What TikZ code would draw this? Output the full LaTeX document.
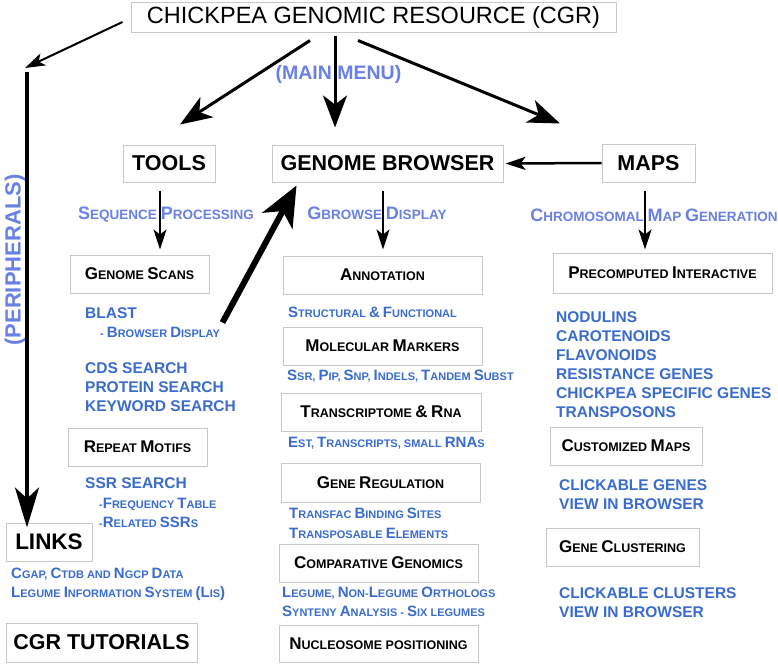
\documentclass[tikz,border=0pt]{standalone}
\usepackage{fontspec}
\setmainfont{Liberation Sans}
\usetikzlibrary{arrows.meta}
\definecolor{lblue}{RGB}{105,128,228}
\definecolor{iblue}{RGB}{58,108,206}
\definecolor{boxgray}{RGB}{200,200,200}
\newcommand\Tb[1]{{\fontsize{17}{20}\selectfont #1}}
\newcommand\Lb[1]{{\fontsize{18}{20}\selectfont #1}}
\newcommand\Ib[1]{{\fontsize{15}{17}\selectfont #1}}
\begin{document}
\begin{tikzpicture}[x=1pt,y=-1pt,
  box/.style={draw=boxgray, line width=1pt, fill=white, inner sep=0pt, align=center},
  mainbox/.style={box, font=\fontsize{21.5}{24}\selectfont\bfseries},
  subbox/.style={box, font=\fontsize{12.5}{15}\selectfont\bfseries},
  lab/.style={text=lblue, font=\fontsize{13.5}{16}\selectfont\bfseries, inner sep=0pt, text depth=0pt},
  bigl/.style={text=lblue, font=\fontsize{19.5}{22}\selectfont\bfseries, inner sep=0pt},
  item/.style={text=iblue, font=\fontsize{11}{19}\selectfont\bfseries, anchor=base west, inner sep=0pt, align=left},
  list/.style={text=iblue, font=\fontsize{15.5}{19}\selectfont\bfseries, anchor=base west, inner sep=0pt, align=left},
  thinarr/.style={line width=2pt, -{Stealth[length=20pt,width=13pt,inset=5pt]}},
  mainarr/.style={line width=3pt, -{Stealth[length=32pt,width=24pt,inset=9pt]}},
  smallarr/.style={line width=2pt, -{Stealth[length=20pt,width=13pt,inset=5pt]}},
  bigarr/.style={line width=6pt, -{Stealth[length=40pt,width=34pt,inset=11pt]}},
  vertarr/.style={line width=4pt, -{Stealth[length=40pt,width=24pt,inset=11pt]}}
]
\useasboundingbox[fill=white] (0,0) rectangle (778,664);

% boxes
\node[box, minimum width=485pt, minimum height=30pt, font=\fontsize{23.5}{26}\selectfont] (top) at (373.5,17) {CHICKPEA GENOMIC RESOURCE (CGR)};
\node[mainbox, minimum width=92pt, minimum height=37pt] (tools) at (169,163.5) {TOOLS};
\node[mainbox, minimum width=231pt, minimum height=37pt] (gb) at (387.5,163.5) {GENOME BROWSER};
\node[mainbox, minimum width=93pt, minimum height=38pt] (maps) at (648.5,163) {MAPS};

\node[subbox, minimum width=139pt, minimum height=38pt] (gscans) at (139.5,274) {\Tb{G}ENOME \Tb{S}CANS};
\node[subbox, minimum width=199pt, minimum height=38pt] (annot) at (382.5,275) {\Tb{A}NNOTATION};
\node[subbox, minimum width=219pt, minimum height=40pt] (precomp) at (662.5,273) {\Tb{P}RECOMPUTED \Tb{I}NTERACTIVE};
\node[subbox, minimum width=199pt, minimum height=38pt] (molmark) at (382.5,346) {\Tb{M}OLECULAR \Tb{M}ARKERS};
\node[subbox, minimum width=200pt, minimum height=38pt] (transc) at (381,412) {\Tb{T}RANSCRIPTOME \Tb{\&} \Tb{R}NA};
\node[subbox, minimum width=139pt, minimum height=38pt] (repeat) at (137.5,447) {\Tb{R}EPEAT \Tb{M}OTIFS};
\node[subbox, minimum width=152pt, minimum height=38pt] (custom) at (626,446) {\Tb{C}USTOMIZED \Tb{M}APS};
\node[subbox, minimum width=199pt, minimum height=39pt] (genereg) at (380.5,482.5) {\Tb{G}ENE \Tb{R}EGULATION};
\node[mainbox, minimum width=86pt, minimum height=38pt, font=\fontsize{22.5}{24}\selectfont\bfseries] (links) at (49,542) {LINKS};
\node[subbox, minimum width=153pt, minimum height=38pt] (gclust) at (622.5,547) {\Tb{G}ENE \Tb{C}LUSTERING};
\node[subbox, minimum width=199pt, minimum height=38pt] (compgen) at (378.5,563) {\Tb{C}OMPARATIVE \Tb{G}ENOMICS};
\node[mainbox, minimum width=191pt, minimum height=39pt] (tut) at (101.5,642.5) {CGR TUTORIALS};
\node[subbox, minimum width=199pt, minimum height=37pt] (nucleo) at (378.5,643.5) {\Tb{N}UCLEOSOME POSITIONING};

% blue labels
\node[bigl] (mainmenu) at (338.5,74) {(MAIN MENU)};
\node[bigl, rotate=90, font=\fontsize{22}{24}\selectfont\bfseries] (periph) at (15,260) {(PERIPHERALS)};
\node[lab] (seqproc) at (166,213) {\Lb{S}EQUENCE \Lb{P}ROCESSING};
\node[lab] (gbdisp) at (377,213) {\Lb{G}BROWSE \Lb{D}ISPLAY};
\node[lab] (chrom) at (654,215) {\Lb{C}HROMOSOMAL \Lb{M}AP \Lb{G}ENERATION};

% left column texts (anchor = baseline of the last line)
\node[list] (blast) at (85,318.5) {BLAST};
\node[item] (bdisp) at (100,337.5) {- \Ib{B}ROWSER \Ib{D}ISPLAY};
\node[list] (searches) at (85,411.5) {CDS SEARCH\\PROTEIN SEARCH\\KEYWORD SEARCH};
\node[list] (ssr) at (85,488.5) {SSR SEARCH};
\node[item] (ssrsub) at (99,527.5) {-\Ib{F}REQUENCY \Ib{T}ABLE\\-\Ib{R}ELATED \Ib{SSR}S};
\node[item] (linksub) at (11,597.5) {\Ib{C}GAP, \Ib{C}TDB AND \Ib{N}GCP \Ib{D}ATA\\\Ib{L}EGUME \Ib{I}NFORMATION \Ib{S}YSTEM \Ib{(L}IS\Ib{)}};

% middle column texts
\node[item] (struct) at (288,317.5) {\Ib{S}TRUCTURAL \Ib{\&} \Ib{F}UNCTIONAL};
\node[item] (ssrpip) at (287,380.5) {\Ib{S}SR, \Ib{P}IP, \Ib{S}NP, \Ib{I}NDELS, \Ib{T}ANDEM \Ib{S}UBST};
\node[item] (est) at (288,447.5) {\Ib{E}ST, \Ib{T}RANSCRIPTS, SMALL \Ib{RNA}S};
\node[item, font=\fontsize{11}{20}\selectfont\bfseries] (transfac) at (289,538.5) {\Ib{T}RANSFAC \Ib{B}INDING \Ib{S}ITES\\\Ib{T}RANSPOSABLE \Ib{E}LEMENTS};
\node[item] (legume) at (282,616.5) {\Ib{L}EGUME, \Ib{N}ON-\Ib{L}EGUME \Ib{O}RTHOLOGS\\\Ib{S}YNTENY \Ib{A}NALYSIS - \Ib{S}IX LEGUMES};

% right column texts
\node[list] (nod) at (556,417.5) {NODULINS\\CAROTENOIDS\\FLAVONOIDS\\RESISTANCE GENES\\CHICKPEA SPECIFIC GENES\\TRANSPOSONS};
\node[list, font=\fontsize{15.5}{18.5}\selectfont\bfseries] (clickg) at (559,509) {CLICKABLE GENES\\VIEW IN BROWSER};
\node[list] (clickc) at (559,617.5) {CLICKABLE CLUSTERS\\VIEW IN BROWSER};

% connectors
\coordinate (pcorner) at (25,68);
\coordinate (ptop) at (27,72);
\draw[thinarr] ([shift={(-8,5)}]top.west) -- (pcorner);
\draw[vertarr] (ptop) -- ([yshift=-5]ptop |- links.north);
\draw[mainarr] ([shift={(-63.5,8)}]top.south) -- ([shift={(11,-20)}]tools.north);
\draw[mainarr] ([shift={(-38.5,3)}]top.south) -- ([shift={(-52.5,-17)}]gb.north);
\draw[mainarr] ([shift={(-15.5,8)}]top.south) -- ([shift={(-88.5,-20)}]maps.north);
\draw[smallarr, line width=2.5pt] (maps.west) -- ([xshift=2]gb.east);
\draw[smallarr] ([shift={(-9,8)}]tools.south) -- ([shift={(20.5,-5)}]gscans.north);
\draw[smallarr] ([shift={(-4.5,8)}]gb.south) -- ([shift={(0.5,-6)}]annot.north);
\draw[smallarr] ([shift={(-3.5,8)}]maps.south) -- ([shift={(-17.5,-3)}]precomp.north);
\draw[bigarr] ([shift={(13,29)}]gscans.south east) -- ([shift={(25,3)}]gb.south west);
\end{tikzpicture}
\end{document}
